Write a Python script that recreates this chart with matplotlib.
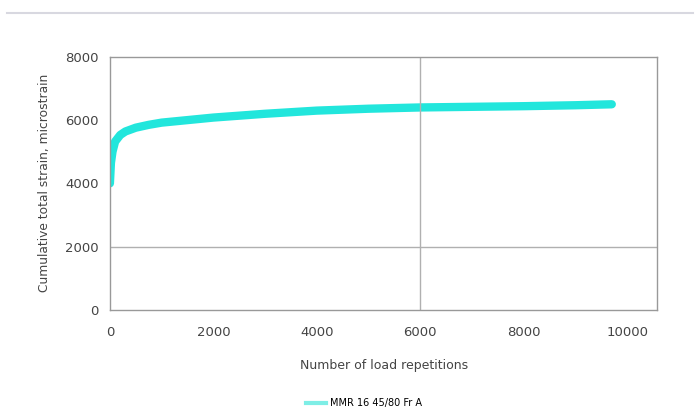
import matplotlib
matplotlib.use("Agg")
import matplotlib.pyplot as plt
from matplotlib.lines import Line2D

plt.rcParams['font.family'] = ['DejaVu Sans']

# load repetitions vs cumulative strain
reps = [0, 20, 50, 100, 200, 300, 500, 750, 1000, 1500, 2000, 3000, 4000,
        5000, 6000, 7000, 8000, 9000, 9700]
strain = [4000, 4650, 5000, 5320, 5530, 5640, 5760, 5850, 5920, 6000, 6080,
          6200, 6300, 6360, 6400, 6420, 6440, 6470, 6500]
series_name = 'MMR 16 45/80 Fr A'

xticks = [0, 2000, 4000, 6000, 8000, 10000]
yticks = [0, 2000, 4000, 6000, 8000]

fig = plt.figure(figsize=(7, 4.12), dpi=100)
ax = fig.add_axes([0.157, 0.248, 0.782, 0.614])

ax.plot(reps, strain, color='#22e6dc', lw=6, solid_capstyle='round')

ax.axhline(2000, color='#b0b0b0', lw=1)
ax.axvline(6000, color='#b0b0b0', lw=1)

ax.set_xlim(0, 10580)
ax.set_ylim(0, 8000)
ax.set_xticks(xticks)
ax.set_yticks(yticks)
ax.tick_params(labelsize=9.5, colors='#444444', length=0)
ax.tick_params(axis='x', pad=12)
ax.tick_params(axis='y', pad=8)
for s in ax.spines.values():
    s.set_color('#999999')
    s.set_linewidth(1)

ax.set_xlabel('Number of load repetitions', fontsize=9, color='#444444', labelpad=14)
ax.set_ylabel('Cumulative total strain, microstrain', fontsize=8.8, color='#444444', labelpad=10)

handle = Line2D([], [], color='#7eeee6', lw=3)
fig.legend([handle], [series_name], loc='center', bbox_to_anchor=(0.52, 0.022),
           frameon=False, fontsize=7, handlelength=2.0, handletextpad=0.4)

fig.add_artist(Line2D([0.01, 0.99], [0.968, 0.968], color='#d8d8e0', lw=1.5))

fig.savefig('out.png', dpi=100)
